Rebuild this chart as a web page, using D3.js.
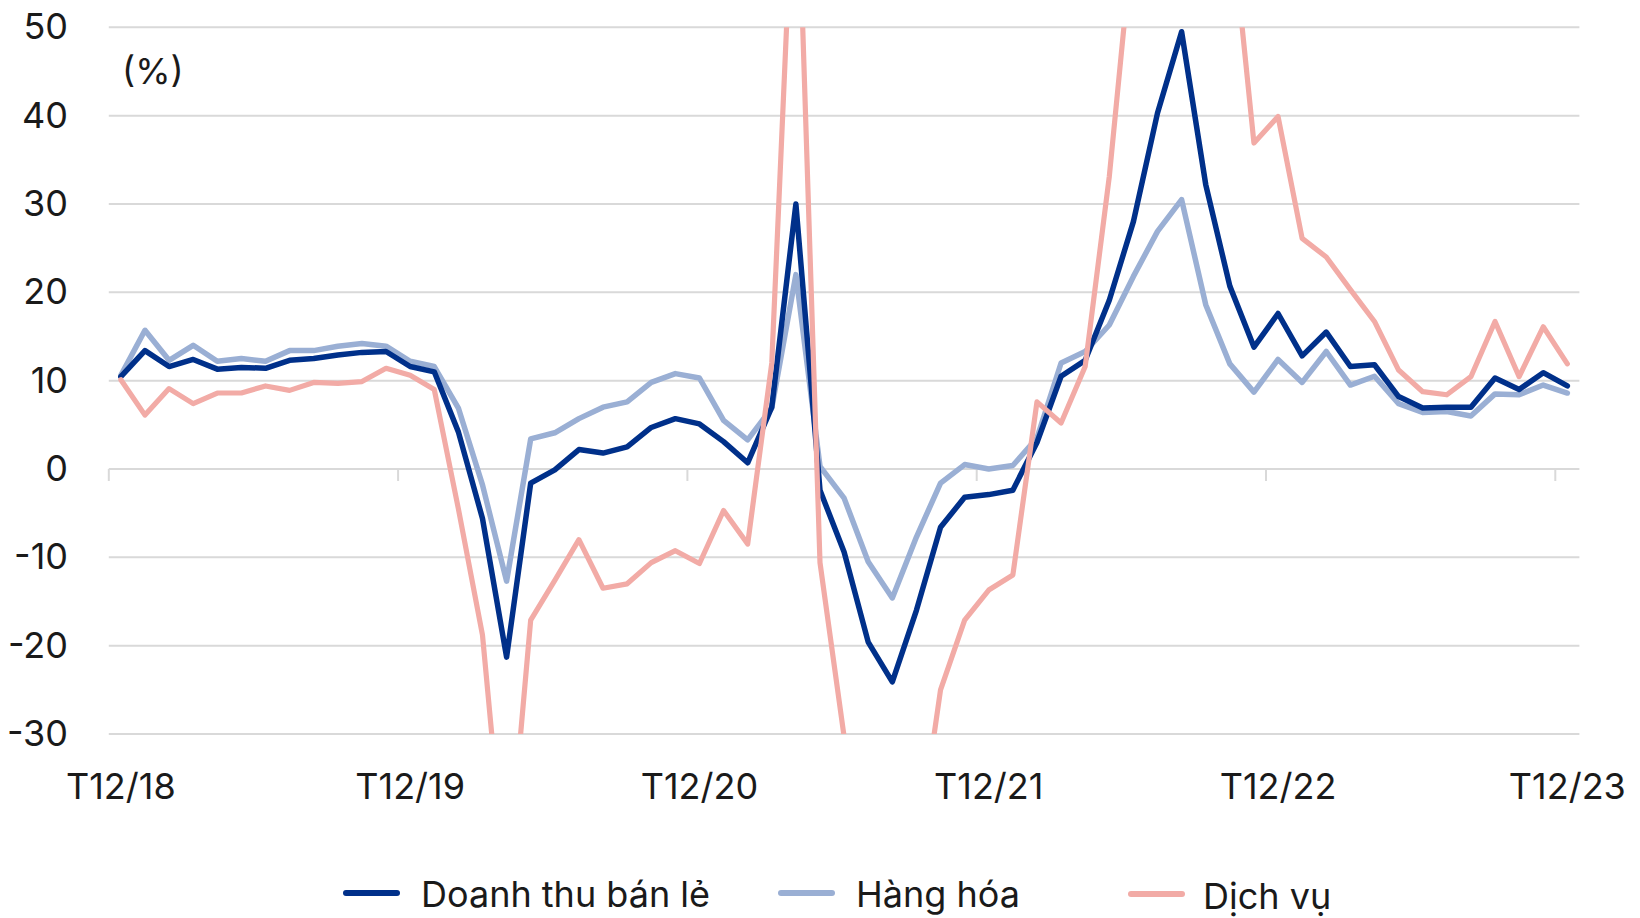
<!DOCTYPE html>
<html>
<head>
<meta charset="utf-8">
<script src="https://cdn.jsdelivr.net/npm/d3@7"></script>
<style>
  html, body { margin: 0; padding: 0; background: #ffffff; }
  svg { display: block; }
  text { font-family: Inter, "Noto Sans", sans-serif; fill: #1a1a1a; }
</style>
</head>
<body>
<svg id="chart" width="1640" height="918"></svg>
<script>
// ---- Data (monthly, T12/18 .. T12/23) ----
const months = (function () {
  const out = [];
  let m = 12, y = 18;
  for (let i = 0; i < 61; i++) {
    out.push("T" + m + "/" + y);
    m += 1; if (m > 12) { m = 1; y += 1; }
  }
  return out;
})();

const tickLabels = ["T12/18", "T12/19", "T12/20", "T12/21", "T12/22", "T12/23"];
const yTicks = [-30, -20, -10, 0, 10, 20, 30, 40, 50];

const retail = [10.45, 13.4, 11.6, 12.4, 11.3, 11.5, 11.4, 12.3, 12.5, 12.9, 13.2, 13.3,
  11.6, 11.0, 4.2, -5.6, -21.3, -1.6, -0.1, 2.2, 1.8, 2.5, 4.7, 5.7,
  5.1, 3.1, 0.7, 7.0, 30.0, -2.4, -9.4, -19.6, -24.1, -16.0, -6.6, -3.2,
  -2.9, -2.4, 3.0, 10.5, 12.3, 19.1, 28.0, 40.3, 49.5, 32.2, 20.7, 13.8,
  17.6, 12.8, 15.5, 11.6, 11.8, 8.2, 6.9, 7.0, 7.0, 10.3, 9.0, 10.9, 9.4];

const goods = [10.6, 15.7, 12.3, 14.0, 12.2, 12.5, 12.2, 13.4, 13.4, 13.9, 14.2, 13.9,
  12.2, 11.6, 6.9, -1.8, -12.7, 3.4, 4.1, 5.7, 7.0, 7.6, 9.8, 10.8,
  10.3, 5.5, 3.3, 6.9, 22.0, 0.3, -3.3, -10.5, -14.6, -7.7, -1.6, 0.5,
  0.0, 0.4, 3.5, 12.0, 13.3, 16.3, 21.8, 26.9, 30.5, 18.6, 11.9, 8.7,
  12.4, 9.8, 13.3, 9.5, 10.5, 7.4, 6.4, 6.5, 6.0, 8.5, 8.4, 9.5, 8.6];

const services = [10.1, 6.1, 9.1, 7.4, 8.6, 8.6, 9.4, 8.9, 9.8, 9.7, 9.9, 11.4,
  10.6, 9.0, -4.5, -18.8, -48.0, -17.1, -12.6, -8.0, -13.5, -13.0, -10.6, -9.25,
  -10.7, -4.7, -8.5, 12.0, 74.0, -10.6, -30.3, -50.0, -58.0, -44.0, -25.0, -17.1,
  -13.7, -12.0, 7.6, 5.2, 11.6, 33.1, 61.0, 100.0, 150.0, 110.0, 63.7, 36.9,
  39.9, 26.1, 24.0, 20.3, 16.7, 11.2, 8.75, 8.4, 10.45, 16.7, 10.45, 16.1, 11.9];

const seriesNames = ["Doanh thu bán lẻ", "Hàng hóa", "Dịch vụ"];
const seriesColors = ["#00308a", "#9aafd4", "#f2aba6"];

// ---- Layout ----
const svg = d3.select("#chart");
const plot = { left: 108.8, right: 1579.4, top: 27.3, bottom: 734 };

const x = d3.scalePoint().domain(months).range([plot.left, plot.right]).padding(0.5);
const y = d3.scaleLinear().domain([-30, 50]).range([plot.bottom, plot.top]);
const step = x.step();

// gridlines
svg.append("g").selectAll("line").data(yTicks).join("line")
  .attr("x1", plot.left).attr("x2", plot.right)
  .attr("y1", d => y(d)).attr("y2", d => y(d))
  .attr("stroke", "#d9d9d9").attr("stroke-width", 2);

// y labels
svg.append("g").selectAll("text").data(yTicks).join("text")
  .attr("x", 68).attr("y", d => y(d) + 12)
  .attr("text-anchor", "end")
  .attr("font-size", 36)
  .text(d => d);

// x axis ticks (category boundaries every 12 months)
svg.append("g").selectAll("line").data(tickLabels).join("line")
  .attr("x1", d => x(d) - step / 2).attr("x2", d => x(d) - step / 2)
  .attr("y1", y(0)).attr("y2", y(0) + 12)
  .attr("stroke", "#d9d9d9").attr("stroke-width", 2);

// x labels
svg.append("g").selectAll("text").data(tickLabels).join("text")
  .attr("x", d => x(d)).attr("y", 799)
  .attr("text-anchor", "middle")
  .attr("font-size", 36)
  .text(d => d);

// unit label
svg.append("text").attr("x", 122).attr("y", 84).attr("font-size", 36).text("(%)");

// clip
svg.append("clipPath").attr("id", "clip").append("rect")
  .attr("x", plot.left - 20).attr("y", plot.top)
  .attr("width", plot.right - plot.left + 40).attr("height", plot.bottom - plot.top);

const line = d3.line().x((d, i) => x(months[i])).y(d => y(d));
const g = svg.append("g").attr("clip-path", "url(#clip)");
const drawOrder = [1, 0, 2];
const allSeries = [retail, goods, services];
const widths = [5.5, 5.5, 5.2];
drawOrder.forEach(k => {
  g.append("path").datum(allSeries[k])
    .attr("d", line)
    .attr("fill", "none")
    .attr("stroke", seriesColors[k])
    .attr("stroke-width", widths[k])
    .attr("stroke-linejoin", "round")
    .attr("stroke-linecap", "round");
});

// legend
const legendItems = [
  { lx: 346, tx: 421, ly: 893, ty: 907 },
  { lx: 781, tx: 856, ly: 893, ty: 907 },
  { lx: 1131, tx: 1203, ly: 894, ty: 909 }
];
const lg = svg.append("g");
seriesNames.forEach((name, k) => {
  const p = legendItems[k];
  lg.append("line").attr("x1", p.lx).attr("x2", p.lx + 51)
    .attr("y1", p.ly).attr("y2", p.ly)
    .attr("stroke", seriesColors[k]).attr("stroke-width", 6).attr("stroke-linecap", "round");
  lg.append("text").attr("x", p.tx).attr("y", p.ty).attr("font-size", 36).text(name);
});
</script>
</body>
</html>
